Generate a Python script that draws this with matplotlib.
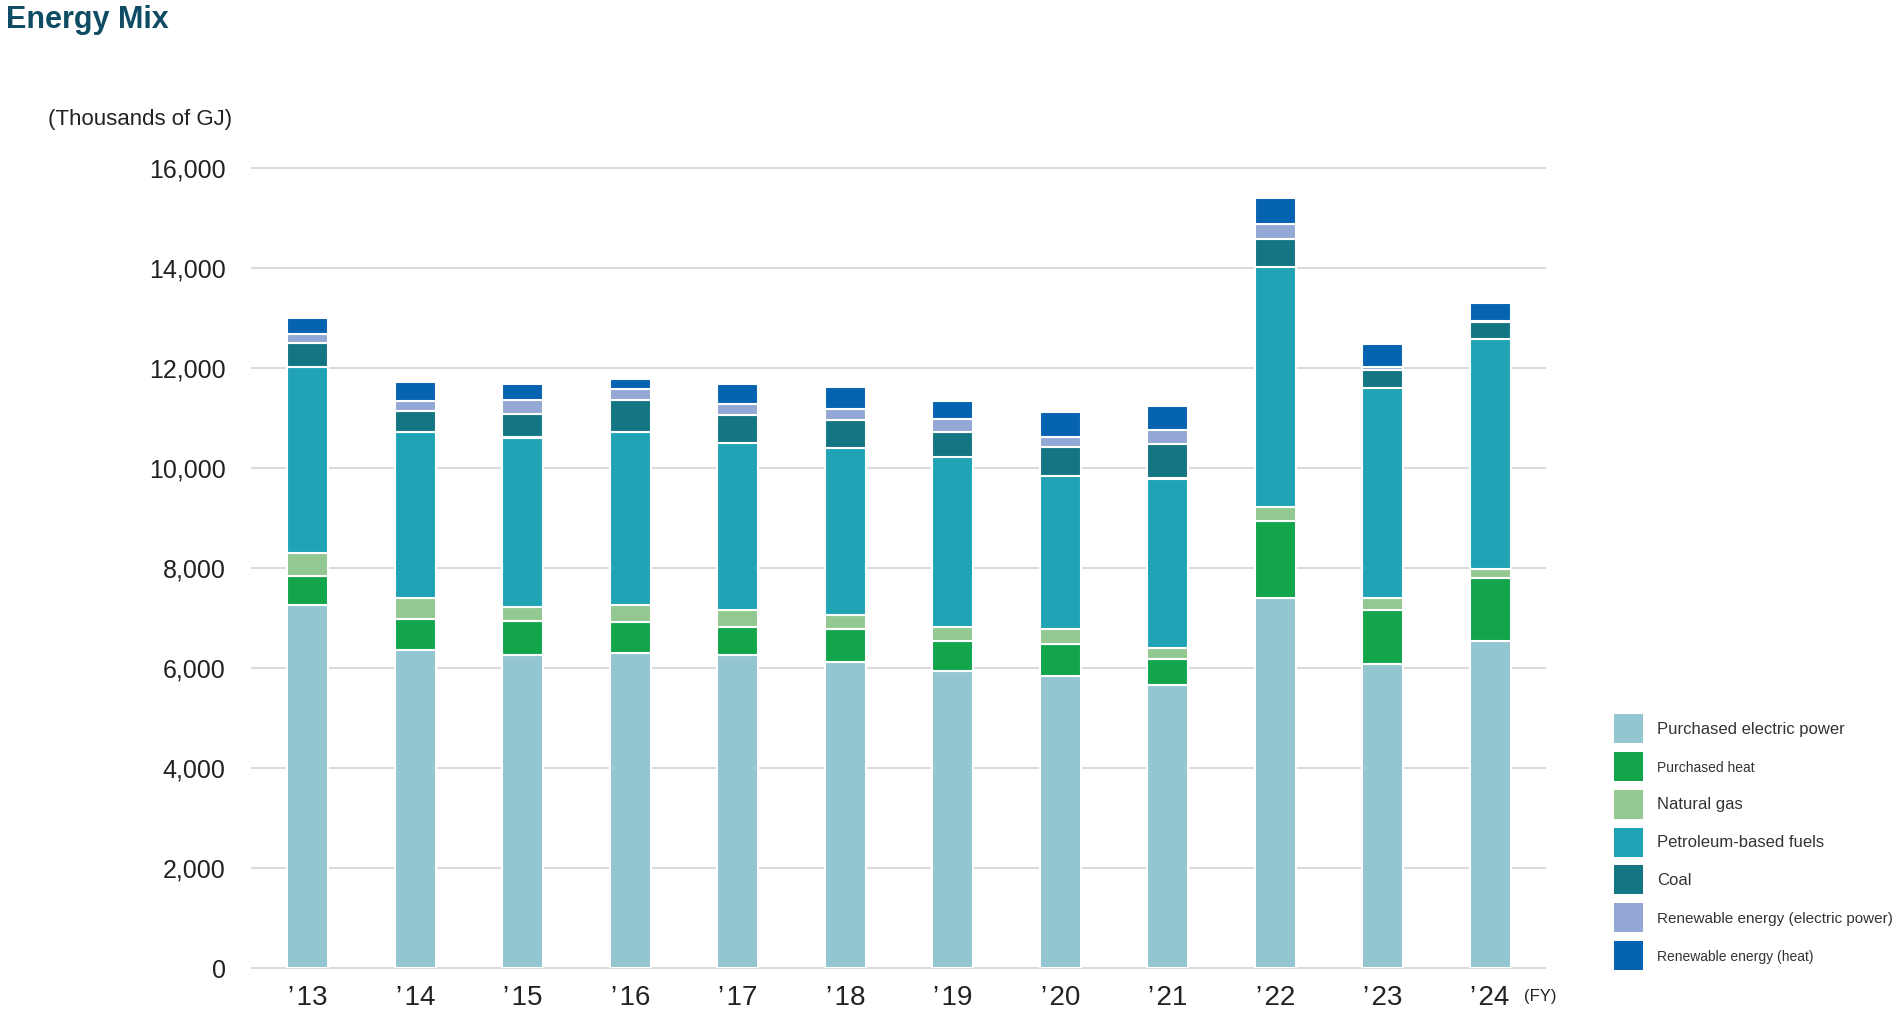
import numpy as np
import matplotlib.pyplot as plt
from matplotlib import font_manager
from matplotlib.patches import Patch
from matplotlib.ticker import StrMethodFormatter

# energy mix, thousands of GJ, stacked bottom -> top
years = ["\u2019\u200a13", "\u2019\u200a14", "\u2019\u200a15", "\u2019\u200a16",
         "\u2019\u200a17", "\u2019\u200a18", "\u2019\u200a19", "\u2019\u200a20",
         "\u2019\u200a21", "\u2019\u200a22", "\u2019\u200a23", "\u2019\u200a24"]

elec_power = [7270, 6370, 6260, 6300, 6260, 6130, 5950, 5850, 5670, 7400, 6090, 6540]
heat = [570, 610, 680, 630, 560, 645, 590, 630, 520, 1545, 1070, 1255]
natural_gas = [465, 420, 290, 340, 335, 280, 290, 295, 220, 280, 250, 185]
petroleum = [3720, 3320, 3380, 3450, 3345, 3350, 3390, 3070, 3380, 4785, 4190, 4595]
coal = [465, 410, 465, 640, 565, 560, 505, 565, 685, 565, 360, 340]
renew_elec = [180, 210, 285, 220, 220, 220, 245, 215, 280, 295, 65, 15]
renew_heat = [320, 370, 320, 205, 385, 435, 365, 500, 480, 520, 455, 365]

labels = ["Purchased electric power", "Purchased heat", "Natural gas",
          "Petroleum-based fuels", "Coal", "Renewable energy (electric power)",
          "Renewable energy (heat)"]
colors = ["#93C6D1", "#12A54C", "#93C991", "#20A3B4", "#137682", "#93A8D4", "#0563B1"]
series = [elec_power, heat, natural_gas, petroleum, coal, renew_elec, renew_heat]

# pick fonts that are there
names = {f.name for f in font_manager.fontManager.ttflist}
base = "Liberation Sans" if "Liberation Sans" in names else "DejaVu Sans"
plt.rcParams['font.family'] = [base, 'DejaVu Sans']

W, H = 1900, 1016
fig = plt.figure(figsize=(W / 100, H / 100), dpi=100)
ax = fig.add_axes([252 / W, 48 / H, (1545 - 252) / W, 800 / H])

x = np.arange(len(years))
bottom = np.zeros(len(years))
for vals, lab, col in zip(series, labels, colors):
    ax.bar(x, vals, width=0.38, bottom=bottom, color=col,
           edgecolor='white', linewidth=1.5, label=lab, zorder=3)
    bottom += np.array(vals)

ax.set_xlim(-0.52, 11.51)
ax.set_ylim(0, 16000)
ax.set_yticks(np.arange(0, 16001, 2000))
ax.yaxis.set_major_formatter(StrMethodFormatter('{x:,.0f}'))
ax.set_xticks(x)
ax.set_xticklabels(years)
ax.tick_params(axis='y', length=0, pad=19, labelsize=18, labelcolor='#222222')
ax.tick_params(axis='x', length=0, pad=12, labelsize=20, labelcolor='#222222')
ax.grid(axis='y', color='#d9d9d9', linewidth=1.4)
ax.set_axisbelow(True)
for gl in ax.get_ygridlines():
    gl.set_clip_on(False)
for s in ax.spines.values():
    s.set_visible(False)

# title and unit
fig.text(6 / W, 1 - 20 / H, "Energy Mix", fontweight='bold',
         fontsize=22, color='#0E4C64', va='center', ha='left')
fig.text(48 / W, 1 - 119 / H, "(Thousands of GJ)", fontsize=16,
         color='#222222', va='center', ha='left')
fig.text(1524 / W, 1 - 997 / H, "(FY)", fontsize=12, color='#222222',
         va='center', ha='left')

handles = [Patch(facecolor=c, linewidth=0) for c in colors]
leg = fig.legend(handles, labels, loc='upper left',
                 bbox_to_anchor=(1614 / W, 1 - 714 / H), frameon=False,
                 fontsize=12, handlelength=1.74, handleheight=2.3,
                 handletextpad=0.85, labelspacing=0.53, borderpad=0,
                 borderaxespad=0)
for t in leg.get_texts():
    t.set_color('#333333')
    txt = t.get_text()
    if txt in ("Purchased heat", "Renewable energy (heat)"):
        t.set_fontsize(10)
    elif txt == "Renewable energy (electric power)":
        t.set_fontsize(11)

fig.savefig("out.png", dpi=100)
